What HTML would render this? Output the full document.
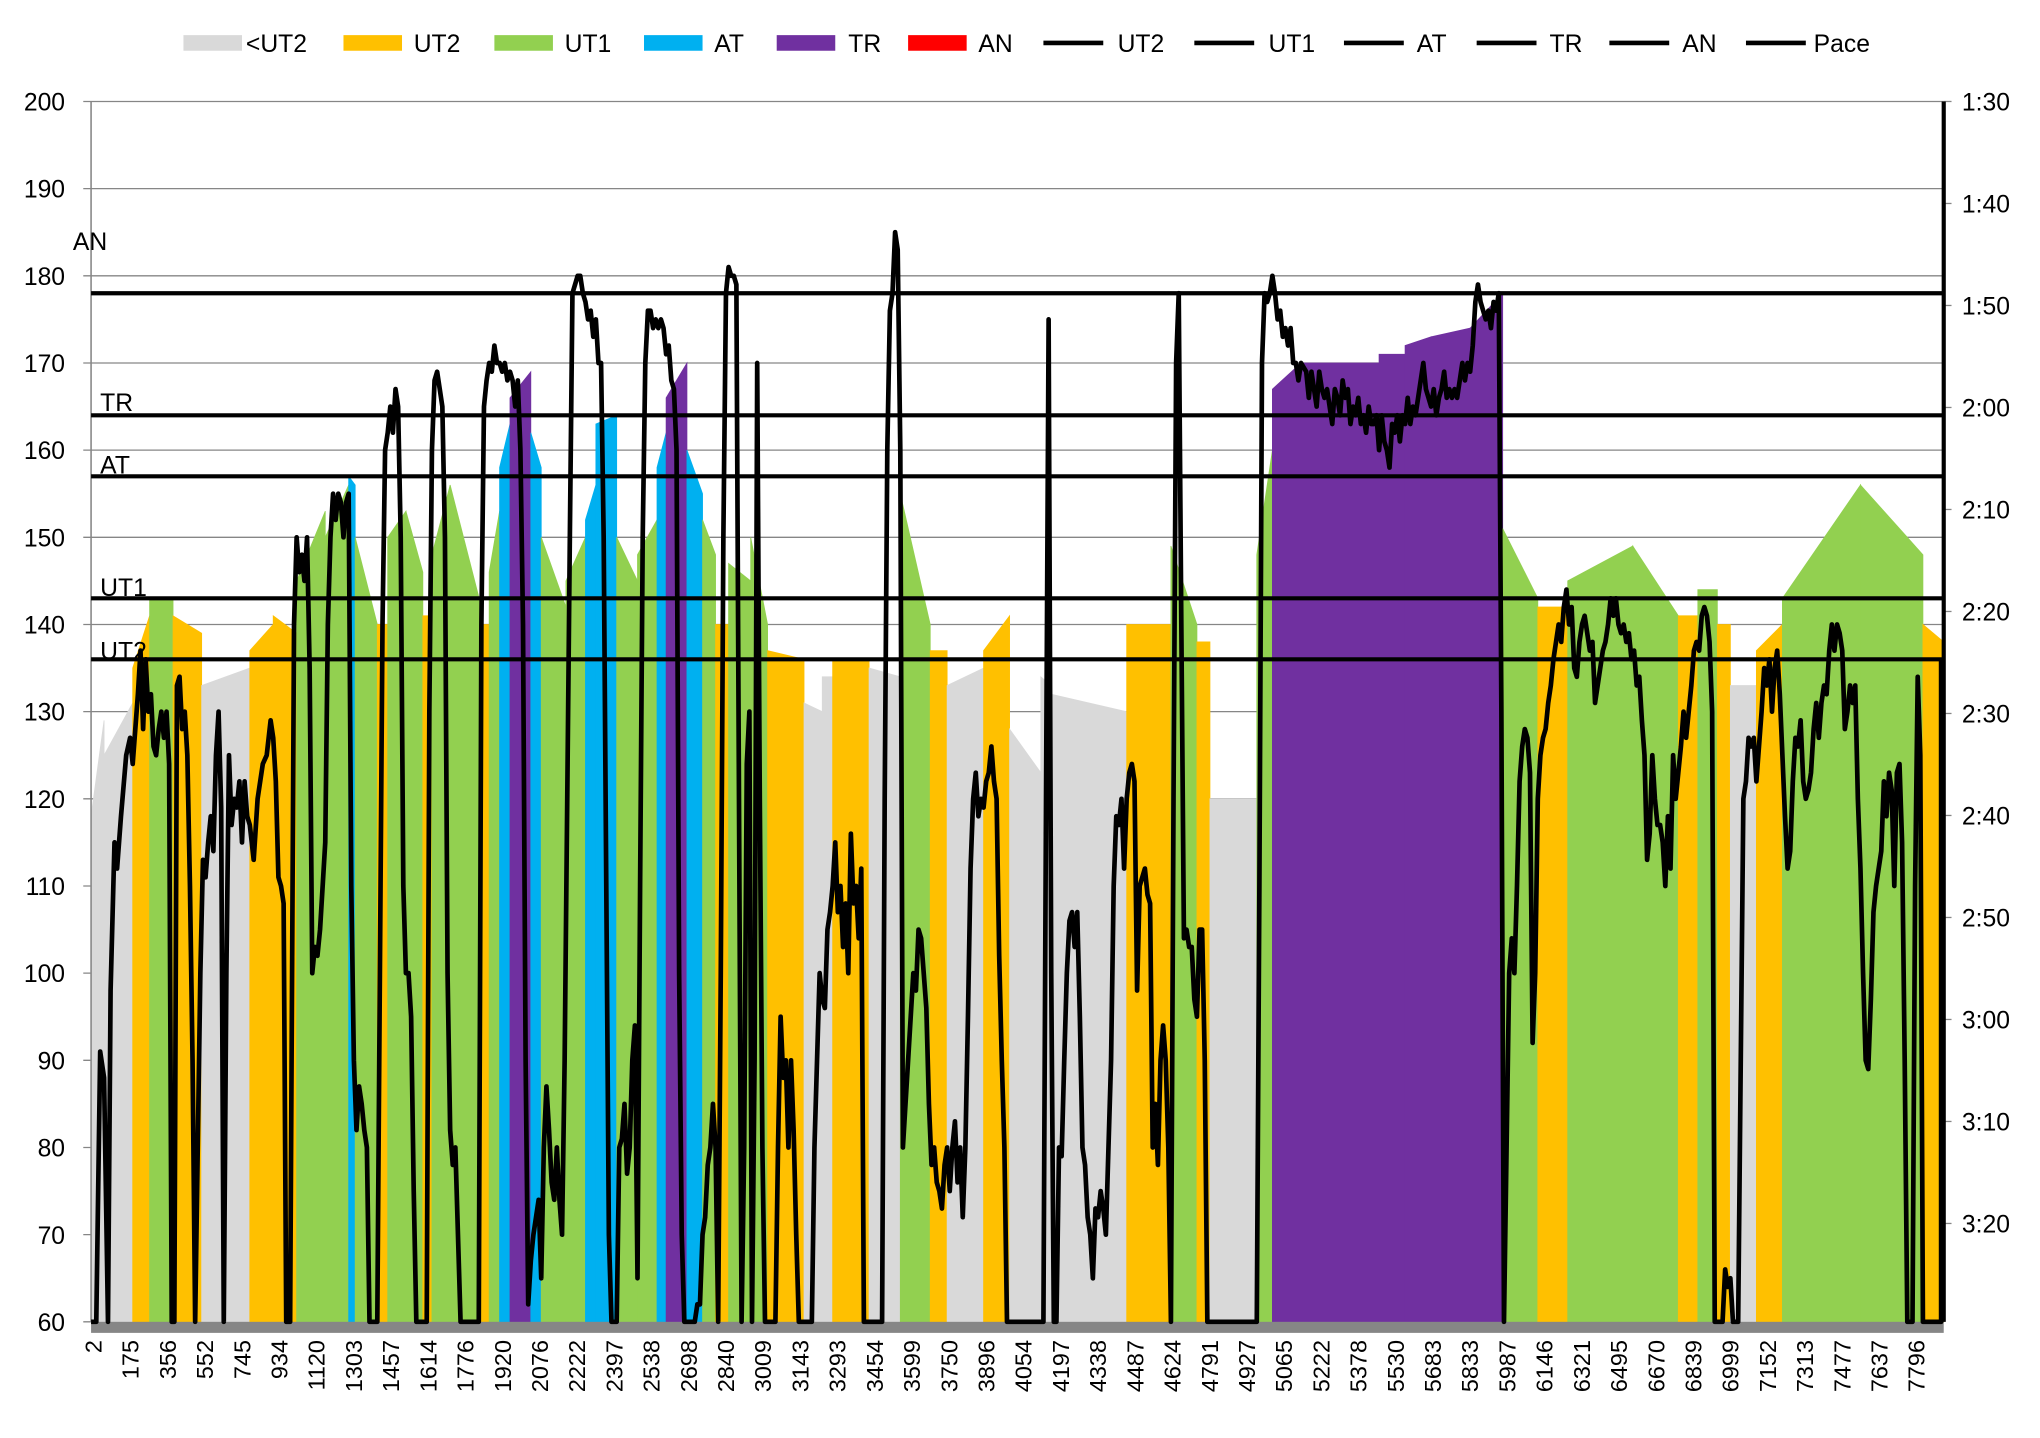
<!DOCTYPE html>
<html><head><meta charset="utf-8"><style>
html,body{margin:0;padding:0;background:#fff;}
svg{display:block;}
text{font-family:"Liberation Sans",sans-serif;fill:#000;}
</style></head><body>
<svg id="s" width="2040" height="1438" viewBox="0 0 1568 1105.3" preserveAspectRatio="none" xmlns="http://www.w3.org/2000/svg"></svg>
<script>
const S=document.getElementById('s');
const Y=v=>1016-(v-60)*6.7;
let h='';
// gridlines
for(let v=60;v<=200;v+=10){h+=`<line x1="64" x2="1494" y1="${Y(v)}" y2="${Y(v)}" stroke="#868686" stroke-width="1"/>`;
h+=`<text x="50" y="${Y(v)+7}" font-size="19" text-anchor="end">${v}</text>`;}
// segments [x0,x1,color,v0,v1]
const G='#d9d9d9',O='#ffc000',Gr='#92d050',B='#00b0f0',P='#7030a0';
const seg=[[70,80,G,118,129],[80,102,G,125,131],[102,115,O,135,141],[115,133,Gr,143,143],[133,155,O,141,139],[155,192,G,133,135],
[192,210,O,137,140],[210,228,O,141,139],[228,250,Gr,145,153],[250,268,Gr,150,156],[268,273,B,157,156],[273,290,Gr,150,140],[290,298,O,140,140],
[298,312,Gr,150,153],[312,325,Gr,153,146],[325,332,O,141,141],[332,346,Gr,148,156],[346,370,Gr,156,142],[370,376,O,140,140],[376,384,Gr,146,153],
[384,392,B,158,163],[392,408,P,166,169],[408,416,B,162,158],[416,435,Gr,150,142],[435,450,Gr,145,150],[450,458,B,152,156],[458,474,B,163,164],
[474,490,Gr,150,145],[490,505,Gr,148,152],[505,512,B,158,162],[512,528,P,166,170],[528,540,B,160,155],[540,550,Gr,152,148],[550,560,O,140,140],
[560,577,Gr,147,145],[577,590,Gr,150,140],[590,618,O,137,136],[618,632,G,131,130],[632,640,G,134,134],[640,668,O,136,136],[668,692,G,135,134],
[692,715,Gr,155,140],[715,728,O,137,137],[728,756,G,133,135],[756,776,O,137,141],[776,800,G,128,123],[800,808,G,134,133],[808,866,G,132,130],
[866,900,O,140,140],[900,920,Gr,149,140],[920,930,O,138,138],[930,966,G,120,120],[966,978,Gr,148,160],[978,1000,P,167,170],[1000,1060,P,170,170],
[1060,1080,P,171,171],[1080,1100,P,172,173],[1100,1130,P,173,174],[1130,1155,P,174,178],[1155,1182,Gr,151,143],[1182,1205,O,142,142],
[1205,1255,Gr,145,149],[1255,1290,Gr,149,141],[1290,1305,O,141,141],[1305,1320,Gr,144,144],[1320,1330,O,140,140],[1330,1350,G,133,133],
[1350,1370,O,137,140],[1370,1430,Gr,143,156],[1430,1478,Gr,156,148],[1478,1494,O,140,138]];
for(const [a,b,c,v0,v1] of seg){h+=`<polygon points="${a},1016 ${a},${Y(v0)} ${b},${Y(v1)} ${b},1016" fill="${c}" stroke="${c}" stroke-width="0.6"/>`;}
// floor band
h+=`<rect x="70" y="1016" width="1424" height="8.5" fill="#868686"/>`;
// axes
h+=`<line x1="70" y1="78" x2="70" y2="1016" stroke="#868686" stroke-width="1.2"/>`;
h+=`<line x1="1494" y1="78" x2="1494" y2="1016" stroke="#868686" stroke-width="1.2"/>`;
const pace=['1:30','1:40','1:50','2:00','2:10','2:20','2:30','2:40','2:50','3:00','3:10','3:20'];
pace.forEach((p,i)=>{const y=78+i*78.4;h+=`<line x1="1494" x2="1500" y1="${y}" y2="${y}" stroke="#868686"/>`;h+=`<text x="1508" y="${y+7}" font-size="19">${p}</text>`;});
// threshold lines
[[178,'AN',56,192],[164,'TR',77,316],[157,'AT',77,364],[143,'UT1',77,458],[136,'UT2',77,507]].forEach(([v,t,x,y])=>{
h+=`<line x1="70" x2="1494" y1="${Y(v)}" y2="${Y(v)}" stroke="#000" stroke-width="3.2"/>`;h+=`<text x="${x}" y="${y}" font-size="19">${t}</text>`;});
// HR line
const d=[70,60,74,60,77,91,80,88,83,60,85,98,88,115,90,112,93,118,97,125,100,127,102,124,104,128,106,132,108,137,110,128,112,136,114,130,116,132,118,126,120,125,122,128,124,130,126,127,128,130,130,124,132,60,134,60,136,133,138,134,140,128,142,130,144,125,146,110,148,90,150,60,152,80,154,100,156,113,158,111,160,115,162,118,164,114,166,125,168,130,170,119,172,60,174,100,176,125,178,117,180,120,182,119,184,122,186,115,188,122,190,118,192,117,195,113,198,120,202,124,205,125,208,129,210,127,212,122,214,111,216,110,218,108,220,60,223,60,226,140,228,150,230,146,232,148,234,145,236,150,238,135,240,100,242,103,244,102,246,105,248,110,250,115,252,140,254,150,256,155,258,152,260,155,262,154,264,150,266,154,268,155,270,110,272,90,274,82,276,87,278,85,280,82,282,80,284,60,290,60,292,100,294,140,296,160,298,162,300,165,302,162,304,167,306,165,308,150,310,110,312,100,314,100,316,95,318,75,320,60,328,60,330,130,332,160,334,168,336,169,338,167,340,165,342,150,344,100,346,82,348,78,350,80,352,70,354,60,368,60,370,140,372,165,374,168,376,170,378,169,380,172,382,170,384,170,386,169,388,170,390,168,392,169,394,168,396,165,398,168,400,160,402,140,404,90,406,62,408,67,410,70,412,72,414,74,416,65,418,80,420,87,422,82,424,76,426,74,428,80,430,74,432,70,434,90,436,120,438,150,440,178,442,179,444,180,446,180,448,178,450,177,452,175,454,176,456,173,458,175,460,170,462,170,464,150,466,110,468,70,470,60,474,60,476,80,478,81,480,85,482,77,484,80,486,90,488,94,490,65,492,110,494,150,496,170,498,176,500,176,502,174,504,175,506,174,508,175,510,174,512,171,514,172,516,168,518,167,520,160,522,100,524,70,526,60,534,60,536,62,538,62,540,70,542,72,544,78,546,80,548,85,550,80,552,60,554,100,556,150,558,178,560,181,562,180,564,180,566,179,568,120,570,60,572,80,574,124,576,130,578,60,580,90,582,170,584,120,586,80,588,60,596,60,598,80,600,95,602,88,604,90,606,80,608,90,610,82,612,70,614,60,624,60,626,80,628,90,630,100,632,97,634,96,636,105,638,107,640,110,642,115,644,107,646,110,648,103,650,108,652,100,654,116,656,108,658,110,660,104,662,112,664,60,678,60,680,120,682,160,684,176,686,178,688,185,690,183,692,160,694,80,696,85,698,90,700,95,702,100,704,98,706,105,708,104,710,100,712,96,714,85,716,78,718,80,720,76,722,75,724,73,726,78,728,80,730,75,732,80,734,83,736,76,738,80,740,72,742,80,744,95,746,112,748,120,750,123,752,118,754,120,756,119,758,122,760,123,762,126,764,122,766,120,768,102,770,90,772,80,774,60,802,60,804,120,806,175,808,100,810,60,812,60,814,80,816,79,818,90,820,100,822,106,824,107,826,103,828,107,830,95,832,80,834,78,836,72,838,70,840,65,842,73,844,72,846,75,848,73,850,70,852,80,854,90,856,110,858,118,860,117,862,120,864,112,866,120,868,123,870,124,872,122,874,98,876,110,878,111,880,112,882,109,884,108,886,80,888,85,890,78,892,90,894,94,896,90,898,80,900,60,902,120,904,170,906,178,908,140,910,104,912,105,914,103,916,103,918,97,920,95,922,105,924,105,926,90,928,60,966,60,968,110,970,170,972,178,974,177,976,178,978,180,980,178,982,175,984,176,986,173,988,174,990,172,992,174,994,170,996,170,998,168,1000,170,1004,169,1006,166,1008,169,1010,167,1012,165,1014,169,1016,167,1018,166,1020,167,1022,165,1024,163,1026,167,1028,166,1030,164,1032,168,1034,166,1036,167,1038,163,1040,165,1042,164,1044,166,1046,163,1048,164,1050,162,1052,165,1054,163,1056,163,1058,164,1060,160,1062,164,1064,161,1066,160,1068,158,1070,163,1072,162,1074,164,1076,161,1078,164,1080,163,1082,166,1084,163,1086,165,1088,164,1090,166,1092,168,1094,170,1096,167,1098,166,1100,165,1102,167,1104,164,1106,166,1108,167,1110,169,1112,166,1114,167,1116,166,1118,167,1120,166,1122,168,1124,170,1126,168,1128,170,1130,169,1132,172,1134,177,1136,179,1138,177,1140,176,1142,175,1144,176,1146,174,1148,177,1150,176,1152,178,1154,130,1156,60,1158,80,1160,100,1162,104,1164,100,1166,110,1168,122,1170,126,1172,128,1174,127,1176,123,1178,92,1180,100,1182,120,1184,125,1186,127,1188,128,1190,131,1192,133,1194,136,1196,138,1198,140,1200,138,1202,142,1204,144,1206,140,1208,142,1210,135,1212,134,1214,138,1216,140,1218,141,1220,139,1222,137,1224,138,1226,131,1228,133,1230,135,1232,137,1234,138,1236,140,1238,143,1240,141,1242,143,1244,140,1246,139,1248,140,1250,138,1252,139,1254,136,1256,137,1258,133,1260,134,1262,129,1264,125,1266,113,1268,116,1270,125,1272,120,1274,117,1276,117,1278,115,1280,110,1282,118,1284,112,1286,125,1288,120,1290,123,1292,126,1294,130,1296,127,1298,130,1300,133,1302,137,1304,138,1306,137,1308,141,1310,142,1312,141,1314,138,1316,130,1318,60,1324,60,1326,66,1328,64,1330,65,1332,60,1336,60,1338,90,1340,120,1342,122,1344,127,1346,126,1348,127,1350,122,1352,126,1354,130,1356,135,1358,133,1360,136,1362,130,1364,135,1366,137,1368,132,1370,125,1372,118,1374,112,1376,114,1378,122,1380,127,1382,126,1384,129,1386,122,1388,120,1390,121,1392,123,1394,128,1396,131,1398,127,1400,131,1402,133,1404,132,1406,137,1408,140,1410,137,1412,140,1414,139,1416,137,1418,128,1420,130,1422,133,1424,131,1426,133,1428,120,1430,112,1432,100,1434,90,1436,89,1438,97,1440,107,1442,110,1444,112,1446,114,1448,122,1450,118,1452,123,1454,121,1456,110,1458,123,1460,124,1462,115,1464,90,1466,60,1470,60,1472,110,1474,134,1476,125,1478,60,1492,60,1492,136];
let pts=[];for(let i=0;i<d.length;i+=2)pts.push(d[i]+','+Y(d[i+1]).toFixed(1));
h+=`<polyline points="${pts.join(' ')}" fill="none" stroke="#000" stroke-width="3.6" stroke-linejoin="round"/>`;
h+=`<line x1="1494" y1="78" x2="1494" y2="1016" stroke="#000" stroke-width="3.2"/>`;
// x labels
const xl=[2,175,356,552,745,934,1120,1303,1457,1614,1776,1920,2076,2222,2397,2538,2698,2840,3009,3143,3293,3454,3599,3750,3896,4054,4197,4338,4487,4624,4791,4927,5065,5222,5378,5530,5683,5833,5987,6146,6321,6495,6670,6839,6999,7152,7313,7477,7637,7796];
xl.forEach((t,i)=>{const x=72+i*28.6+6;h+=`<text transform="translate(${x},1030) rotate(-90)" font-size="18" text-anchor="end">${t}</text>`;});
// legend
const lg=[[141,G,'<UT2',189],[264,O,'UT2',318],[380,Gr,'UT1',434],[495,B,'AT',549],[597,P,'TR',652],[698,'#ff0000','AN',752]];
lg.forEach(([x,c,t,tx])=>{h+=`<rect x="${x}" y="27" width="45" height="12" fill="${c}"/><text x="${tx}" y="40" font-size="19">${t.replace('<','&lt;')}</text>`;});
[[802,'UT2',859],[918,'UT1',975],[1033,'AT',1089],[1135,'TR',1191],[1237,'AN',1293],[1342,'Pace',1394]].forEach(([x,t,tx])=>{
h+=`<line x1="${x}" x2="${x+46}" y1="33" y2="33" stroke="#000" stroke-width="3.5"/><text x="${tx}" y="40" font-size="19">${t}</text>`;});
S.innerHTML=h;
</script>
</body></html>
